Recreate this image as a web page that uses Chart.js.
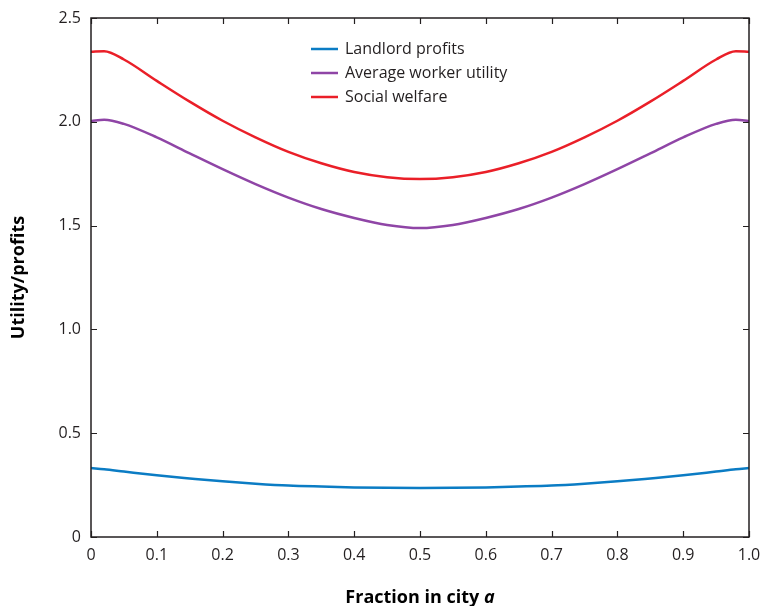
<!DOCTYPE html>
<html>
<head>
<meta charset="utf-8">
<script src="https://cdn.jsdelivr.net/npm/chart.js@4.4.1/dist/chart.umd.min.js"></script>
<style>
  html, body { margin: 0; padding: 0; background: #fff; }
  #wrap { width: 762px; height: 606px; }
</style>
</head>
<body>
<div id="wrap"><canvas id="chart" width="762" height="606"></canvas></div>
<script>
// Data
const fractionA = [0, 0.02, 0.05, 0.1, 0.15, 0.2, 0.25, 0.3, 0.35, 0.4, 0.45, 0.5,
  0.55, 0.6, 0.65, 0.7, 0.75, 0.8, 0.85, 0.9, 0.95, 0.98, 1.0];
const landlordProfits = [0.332, 0.326, 0.315, 0.297, 0.282, 0.268, 0.257, 0.248, 0.243, 0.239, 0.237, 0.236,
  0.237, 0.239, 0.243, 0.248, 0.257, 0.268, 0.282, 0.297, 0.315, 0.326, 0.332];
const workerUtility = [2.003, 2.01, 1.99, 1.925, 1.848, 1.772, 1.70, 1.635, 1.58, 1.537, 1.503, 1.488,
  1.503, 1.537, 1.58, 1.635, 1.70, 1.772, 1.848, 1.925, 1.99, 2.01, 2.003];
const socialWelfare = [2.337, 2.34, 2.30, 2.197, 2.097, 2.005, 1.925, 1.855, 1.80, 1.758, 1.733, 1.724,
  1.733, 1.758, 1.80, 1.855, 1.925, 2.005, 2.097, 2.197, 2.30, 2.34, 2.337];
const seriesLabels = ["Landlord profits", "Average worker utility", "Social welfare"];
const seriesColors = ["#0b7cc4", "#8f45a6", "#ea1f28"];
const xTicks = [0, 0.1, 0.2, 0.3, 0.4, 0.5, 0.6, 0.7, 0.8, 0.9, 1.0];
const yTicks = [0, 0.5, 1.0, 1.5, 2.0, 2.5];

const FONT = "'Open Sans', 'Noto Sans', sans-serif";
const INK = "#231f20";

function toPoints(values) {
  return values.map((v, i) => ({ x: fractionA[i], y: v }));
}

// frame, inward ticks on all sides, legend and axis titles
const decorations = {
  id: "decorations",
  afterDraw(chart) {
    const ctx = chart.ctx;
    const { left, right, top, bottom } = chart.chartArea;
    const xs = chart.scales.x, ys = chart.scales.y;
    ctx.save();
    ctx.strokeStyle = INK;
    ctx.lineWidth = 1.5;
    ctx.strokeRect(left, top, right - left, bottom - top);
    ctx.lineWidth = 1.2;
    ctx.beginPath();
    xTicks.forEach(t => {
      const px = Math.round(xs.getPixelForValue(t)) + 0.5;
      ctx.moveTo(px, bottom); ctx.lineTo(px, bottom - 6);
      ctx.moveTo(px, top); ctx.lineTo(px, top + 6);
    });
    yTicks.forEach(t => {
      const py = Math.round(ys.getPixelForValue(t)) + 0.5;
      ctx.moveTo(left, py); ctx.lineTo(left + 6, py);
      ctx.moveTo(right, py); ctx.lineTo(right - 6, py);
    });
    ctx.stroke();

    // legend
    ctx.font = "16px " + FONT;
    ctx.textBaseline = "middle";
    ctx.textAlign = "left";
    chart.data.datasets.forEach((ds, i) => {
      const y = 49 + i * 24;
      ctx.strokeStyle = ds.borderColor;
      ctx.lineWidth = 2.5;
      ctx.beginPath();
      ctx.moveTo(311, y); ctx.lineTo(338, y);
      ctx.stroke();
      ctx.fillStyle = INK;
      ctx.fillText(ds.label, 345, y);
    });

    // y title
    ctx.fillStyle = "#000";
    ctx.font = "bold 18px " + FONT;
    ctx.textAlign = "center";
    ctx.translate(19, (top + bottom) / 2);
    ctx.rotate(-Math.PI / 2);
    ctx.fillText("Utility/profits", 0, 0);
    ctx.setTransform(1, 0, 0, 1, 0, 0);

    // x title with italic "a"
    const main = "Fraction in city ";
    ctx.font = "bold 18px " + FONT;
    const w1 = ctx.measureText(main).width;
    ctx.font = "italic bold 18px " + FONT;
    const w2 = ctx.measureText("a").width;
    const x0 = (left + right) / 2 - (w1 + w2) / 2;
    ctx.textAlign = "left";
    ctx.textBaseline = "alphabetic";
    ctx.font = "bold 18px " + FONT;
    ctx.fillText(main, x0, 603);
    ctx.font = "italic bold 18px " + FONT;
    ctx.fillText("a", x0 + w1, 603);
    ctx.restore();
  }
};

new Chart(document.getElementById("chart"), {
  type: "line",
  data: {
    datasets: [landlordProfits, workerUtility, socialWelfare].map((vals, i) => ({
      label: seriesLabels[i],
      data: toPoints(vals),
      borderColor: seriesColors[i],
      backgroundColor: seriesColors[i],
      borderWidth: 2.5,
      pointRadius: 0,
      cubicInterpolationMode: "monotone",
      fill: false,
    })),
  },
  options: {
    responsive: false,
    animation: false,
    layout: { padding: { top: 18, right: 13, left: 0, bottom: 0 } },
    plugins: { legend: { display: false }, tooltip: { enabled: false } },
    scales: {
      x: {
        type: "linear",
        min: 0, max: 1,
        afterBuildTicks: s => { s.ticks = xTicks.map(v => ({ value: v })); },
        afterFit: s => { s.height = 69; },
        grid: { display: false },
        border: { display: false },
        ticks: {
          padding: 1,
          color: INK,
          font: { family: FONT, size: 16 },
          maxRotation: 0,
          callback: v => (v === 0 ? "0" : v.toFixed(1)),
        },
      },
      y: {
        min: 0, max: 2.5,
        afterBuildTicks: s => { s.ticks = yTicks.map(v => ({ value: v })); },
        afterFit: s => { s.width = 91; },
        grid: { display: false },
        border: { display: false },
        ticks: {
          padding: 2,
          color: INK,
          font: { family: FONT, size: 16 },
          callback: v => (v === 0 ? "0" : v.toFixed(1)),
        },
      },
    },
  },
  plugins: [decorations],
});
</script>
</body>
</html>
